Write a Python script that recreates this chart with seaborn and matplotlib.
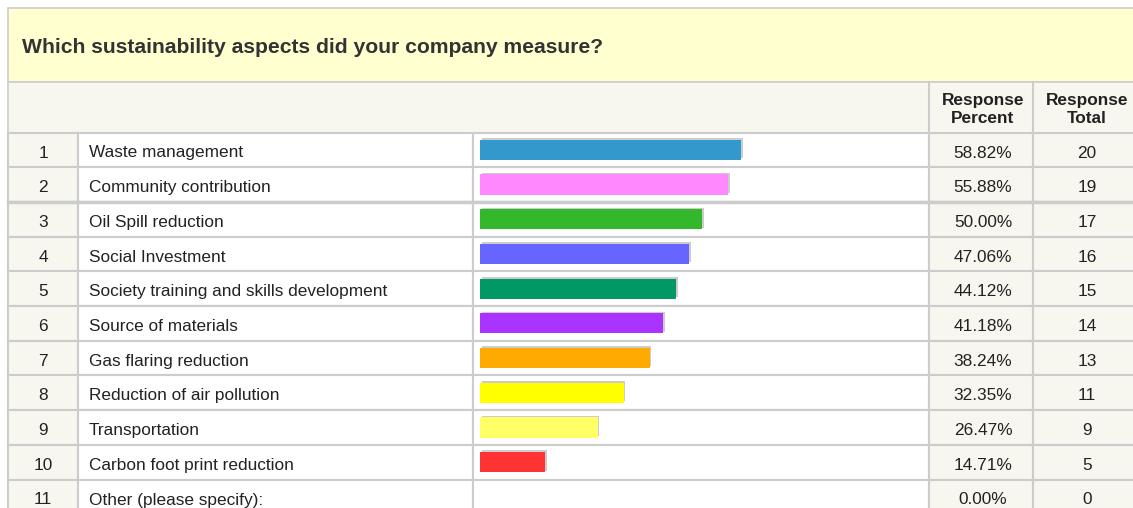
import matplotlib
matplotlib.use("Agg")
import matplotlib.pyplot as plt
import matplotlib.patheffects as pe
from matplotlib.patches import Rectangle
import seaborn as sns
import pandas as pd

# survey data
question = "Which sustainability aspects did your company measure?"
answers = ["Waste management", "Community contribution", "Oil Spill reduction",
           "Social Investment", "Society training and skills development",
           "Source of materials", "Gas flaring reduction",
           "Reduction of air pollution", "Transportation",
           "Carbon foot print reduction", "Other (please specify):"]
percent = [58.82, 55.88, 50.00, 47.06, 44.12, 41.18, 38.24, 32.35, 26.47, 14.71, 0.00]
totals = [20, 19, 17, 16, 15, 14, 13, 11, 9, 5, 0]
bar_colors = ["#3399CC", "#FF88FF", "#33B82B", "#6666FF", "#009966", "#AA33FF",
              "#FFAA00", "#FFFF00", "#FFFF66", "#FF3333", "#FFFFFF"]

plt.rcParams['font.family'] = ['Liberation Sans', 'DejaVu Sans']

W, H = 1133, 508
fig = plt.figure(figsize=(W / 100, H / 100), dpi=100)

# table background in pixel coords
bg = fig.add_axes([0, 0, 1, 1])
bg.set_xlim(0, W)
bg.set_ylim(H, 0)
bg.axis("off")

grid = "#CCCCCC"
light = "#F7F7EF"
txt = "#222222"
left, top = 8, 8
title_bot, head_bot = 82, 132.5
row_h = 34.7
cols = [8, 78, 473, 929, 1033, 1140]
col_bg = [light, "white", "white", light, light]
fs = 12.4

bg.add_patch(Rectangle((left, top), W - left + 5, title_bot - top,
                       facecolor="#FFFFD0", edgecolor=grid, lw=1.2))
bg.text(22, 53, question, fontsize=15.2, fontweight="bold", color="#333333",
        va="baseline", ha="left")
bg.add_patch(Rectangle((left, title_bot), W - left + 5, head_bot - title_bot,
                       facecolor=light, edgecolor=grid, lw=1.2))
for cx, l1, l2 in [(983, "Response", "Percent"), (1087, "Response", "Total")]:
    bg.text(cx, 105, l1, fontsize=12.4, fontweight="bold", color=txt,
            ha="center", va="baseline")
    bg.text(cx, 123, l2, fontsize=12.4, fontweight="bold", color=txt,
            ha="center", va="baseline")
bg.plot([cols[3], cols[3]], [title_bot, head_bot], color=grid, lw=1.5)
bg.plot([cols[4], cols[4]], [title_bot, head_bot], color=grid, lw=1.5)

n = len(answers)
for i in range(n):
    y0 = head_bot + i * row_h
    for c in range(5):
        bg.add_patch(Rectangle((cols[c], y0), cols[c + 1] - cols[c], row_h,
                               facecolor=col_bg[c], edgecolor=grid, lw=1.5))
    yb = y0 + 25.0
    bg.text(43, yb, str(i + 1), fontsize=fs, ha="center", va="baseline", color=txt)
    bg.text(89, yb, answers[i], fontsize=fs, ha="left", va="baseline", color=txt)
    bg.text(983, yb, f"{percent[i]:.2f}%", fontsize=fs, ha="center", va="baseline", color=txt)
    bg.text(1087, yb, str(totals[i]), fontsize=fs, ha="center", va="baseline", color=txt)
# slightly heavier rule under row 2, as in the source page
bg.plot([left, W], [head_bot + 2 * row_h] * 2, color=grid, lw=2.5)

# bar column: 0% at x=480 px, 100% spans 444 px
px_per_pct = 4.44
x0 = 480
ax = fig.add_axes([cols[2] / W, (H - (head_bot + n * row_h)) / H,
                   (cols[3] - cols[2]) / W, n * row_h / H])
df = pd.DataFrame({"answer": answers, "percent": percent})
sns.barplot(data=df, x="percent", y="answer", hue="answer", palette=bar_colors,
            legend=False, width=0.58, linewidth=0, saturation=1, ax=ax)
for p in ax.patches:
    if p.get_width() > 0:
        p.set_path_effects([pe.SimplePatchShadow(offset=(1.2, 1.2), shadow_rgbFace=grid,
                                                 alpha=1), pe.Normal()])
ax.set_xlim((cols[2] - x0) / px_per_pct, (cols[3] - x0) / px_per_pct)
ax.set_ylim(n - 0.5, -0.5)
ax.axis("off")
ax.patch.set_alpha(0)

fig.savefig("out.png", dpi=100)
